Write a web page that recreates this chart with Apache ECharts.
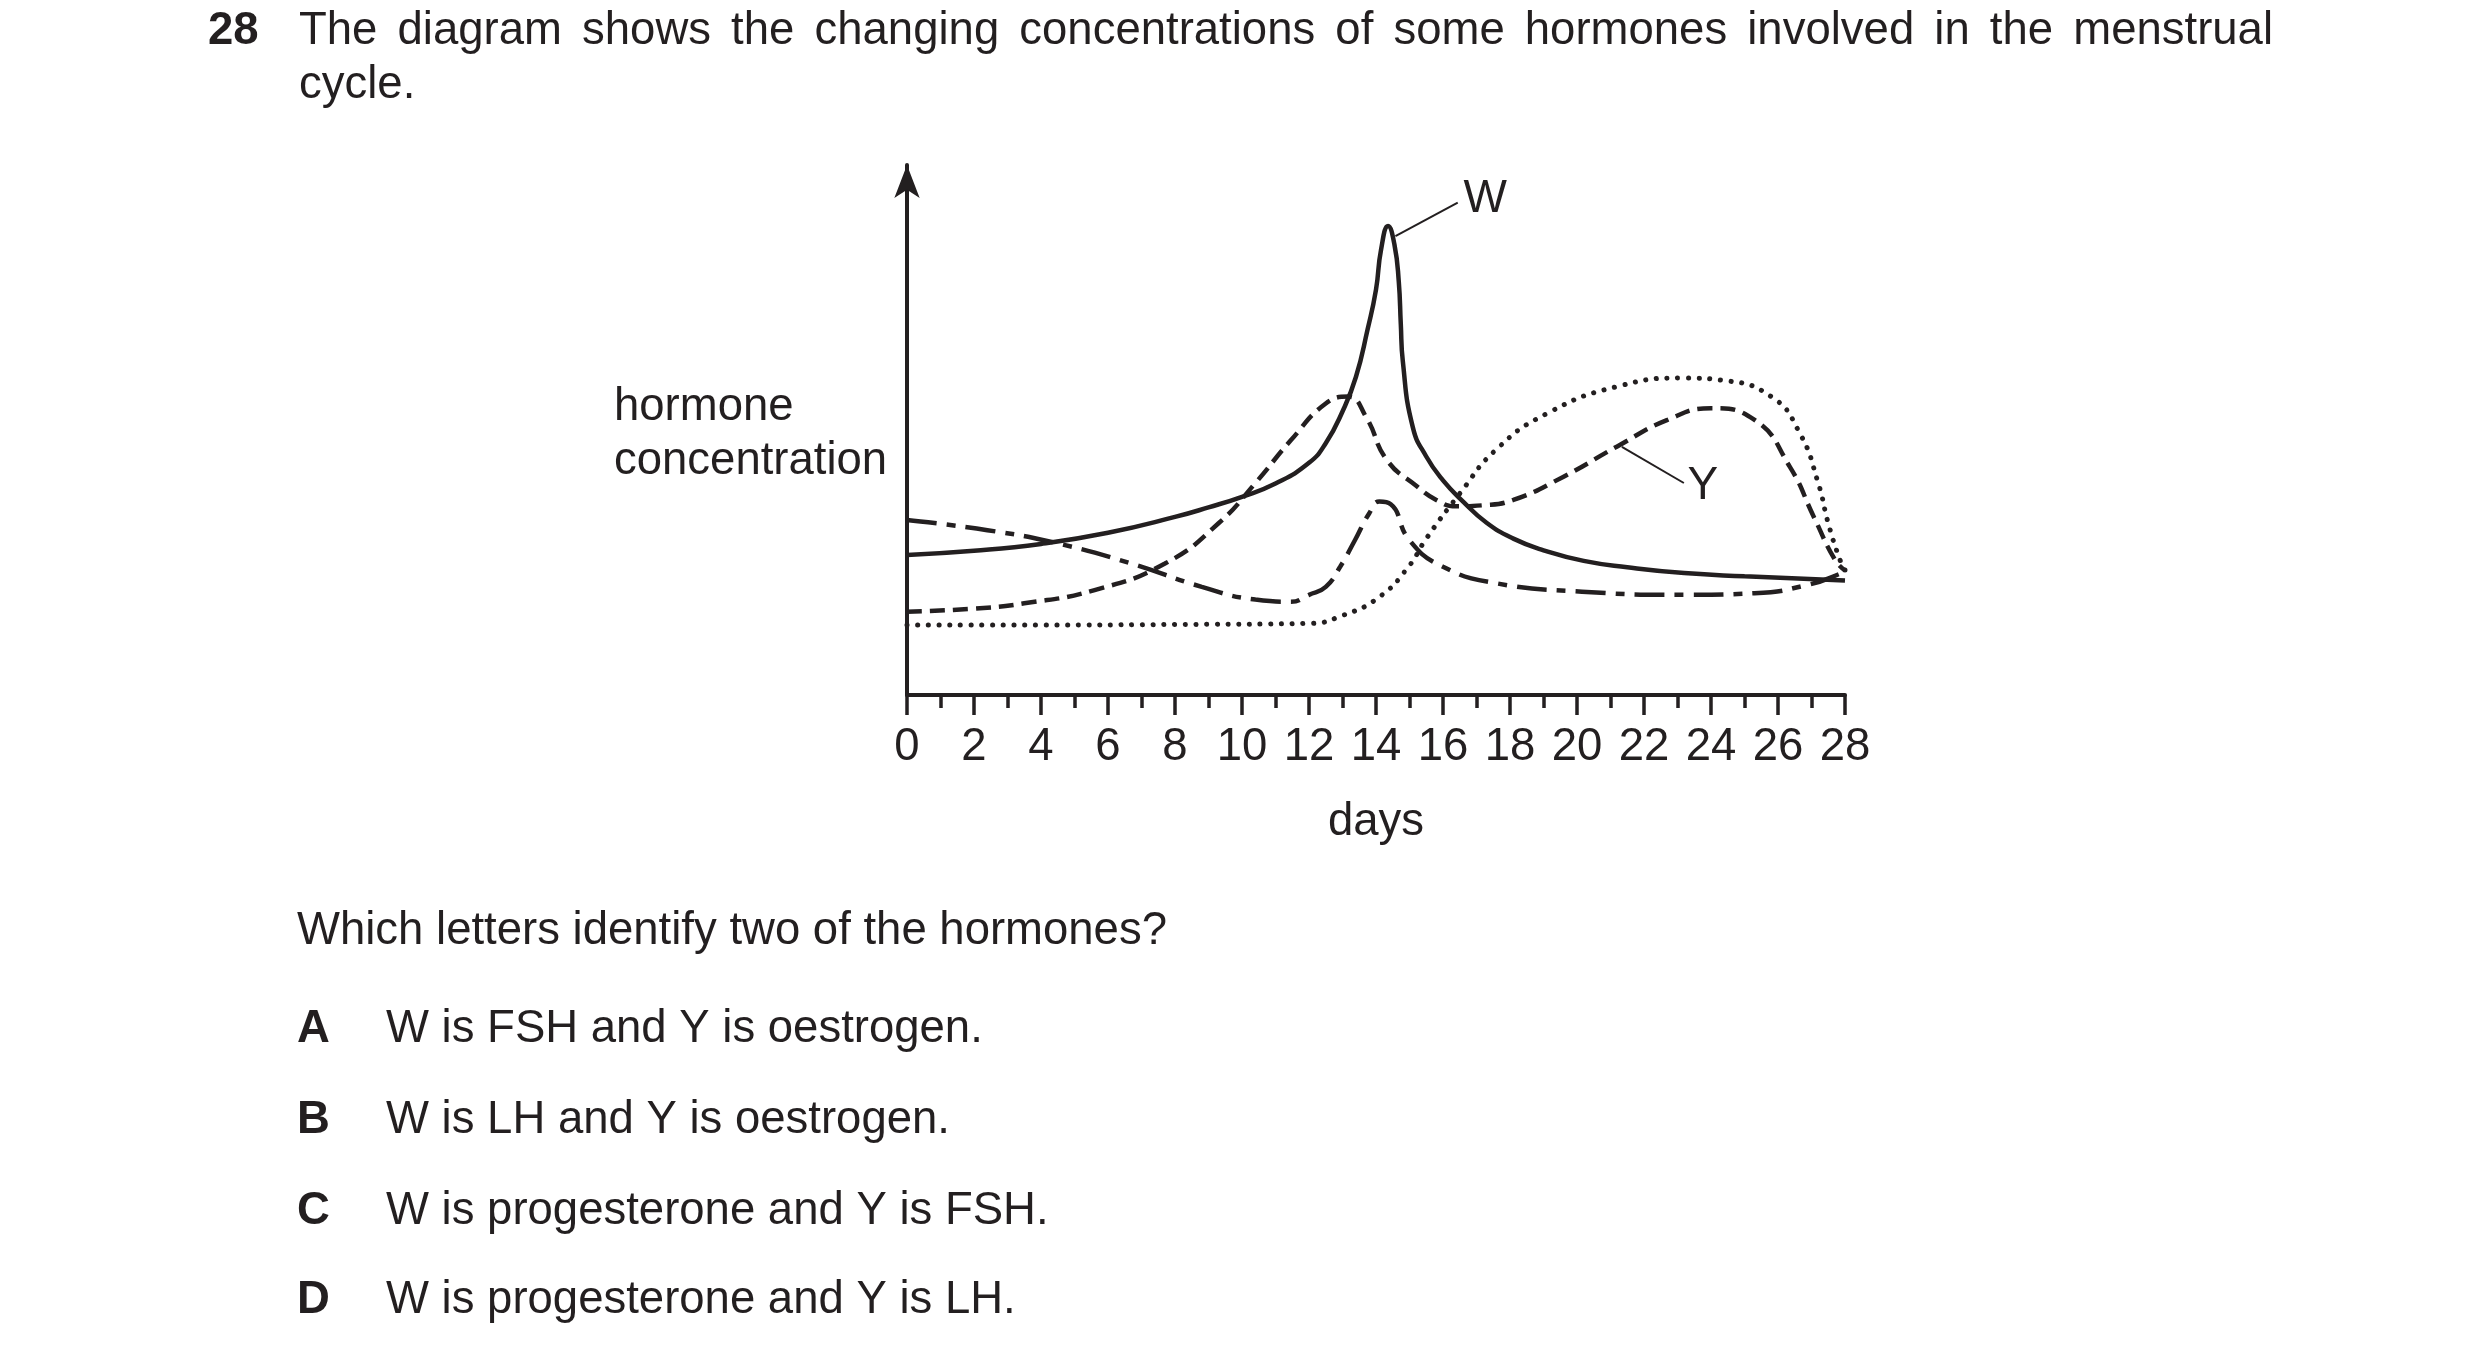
<!DOCTYPE html>
<html>
<head>
<meta charset="utf-8">
<title>hormones in the menstrual cycle</title>
<script src="https://cdn.jsdelivr.net/npm/echarts@6/dist/echarts.min.js"></script>
<style>
  html, body { margin: 0; padding: 0; background: #fff; }
  #main { width: 2480px; height: 1362px; }
</style>
</head>
<body>
<div id="main"></div>
<script>
// hormone concentration (arbitrary units), day by day
var wDays = [0, 2, 4, 6, 8, 9, 10, 11, 12, 12.5, 13, 13.4, 13.75, 14.0, 14.15, 14.36, 14.55, 14.68, 14.74, 14.8, 15.1, 15.5, 16, 16.6, 17.3, 18.1, 19, 20.2, 21.5, 23.2, 25, 28];
var wConc = [26.4, 27.2, 28.5, 30.6, 33.6, 35.4, 37.4, 39.9, 43.8, 47.5, 53.5, 60, 69, 76.5, 84, 88.5, 85, 78, 70, 63, 50.5, 45, 40.5, 36.5, 32.5, 29.5, 27.3, 25.3, 24.1, 23, 22.4, 21.6];

var yDays = [0, 2, 3.5, 5.6, 7.7, 9.3, 10.4, 11.45, 12.5, 13.17, 13.7, 14.33, 15.2, 15.8, 16.4, 17.2, 18.1, 19.6, 21.2, 22.7, 24, 25.3, 26.35, 27.07, 27.7, 28];
var yConc = [15.7, 16.3, 17.3, 19.8, 24.8, 32.4, 40, 48, 55, 56.3, 52.5, 44.3, 39.5, 36.8, 35.6, 35.8, 36.8, 41.2, 46.9, 51.9, 54.1, 51.9, 43.1, 33.6, 25.5, 23.5];

var dotDays = [0, 4, 8, 12, 13, 14.1, 14.97, 15.5, 16.5, 17.57, 19.1, 21.2, 23.25, 24.3, 25.8, 26.65, 27.2, 27.5, 27.85, 28];
var dotConc = [13.2, 13.2, 13.3, 13.5, 15, 18.5, 24.2, 29.5, 38, 46.2, 53.1, 58.2, 59.8, 59.4, 56.3, 49.4, 40, 32.4, 25.5, 23.6];

var ddDays = [0, 2.4, 4.5, 6.7, 8.8, 10.4, 11.45, 12.0, 12.5, 12.93, 13.37, 13.8, 14.1, 14.44, 15, 16, 17.57, 20.15, 23.25, 25.3, 26.9, 27.9, 28];
var ddConc = [33, 31.1, 28.6, 24.8, 20.4, 18, 17.6, 18.9, 20.4, 24.2, 29.2, 34.3, 36.5, 36, 29.2, 24.2, 21.1, 19.5, 18.9, 19.2, 20.8, 23, 23.5];

// leader lines for the two labelled curves: [start, end, label]
var wLeader = [[14.58, 86.6], [16.44, 92.9], [17.26, 93.6]];
var yLeader = [[21.34, 46.8], [23.19, 40.0], [23.76, 39.4]];

var ink = '#231f20';
var font = '"Liberation Sans", Arial, Helvetica, sans-serif';
var size = 45.5;

function pairs(xs, ys) {
    var out = [];
    for (var i = 0; i < xs.length; i++) {
        out.push([xs[i], ys[i]]);
    }
    return out;
}

function leader(l) {
    return {
        silent: true,
        symbol: ['none', 'none'],
        label: { show: false },
        lineStyle: { color: ink, width: 2, type: 'solid' },
        data: [[{ coord: l[0] }, { coord: l[1] }]]
    };
}

function tag(l, text) {
    return {
        silent: true,
        symbol: 'circle',
        symbolSize: 1,
        itemStyle: { color: 'rgba(0,0,0,0)' },
        label: {
            show: true, position: 'inside', formatter: text,
            color: ink, fontFamily: font, fontSize: 46
        },
        data: [{ coord: l[2] }]
    };
}

// first line of the question is justified between two edges, like the printed page
var measure = document.createElement('canvas').getContext('2d');
function justified(text, x0, x1, y) {
    measure.font = size + 'px ' + font;
    var words = text.split(' ');
    var total = 0;
    for (var i = 0; i < words.length; i++) total += measure.measureText(words[i]).width;
    var gap = (x1 - x0 - total) / (words.length - 1);
    var out = [];
    var x = x0;
    for (var j = 0; j < words.length; j++) {
        out.push(line(x, y, words[j]));
        x += measure.measureText(words[j]).width + gap;
    }
    return out;
}

function line(x, y, text, bold) {
    return { type: 'text', x: x, y: y, style: { text: text, fill: ink, font: (bold ? 'bold ' : '') + size + 'px ' + font, verticalAlign: 'middle' } };
}

var myChart = echarts.init(document.getElementById('main'));

var texts = justified('The diagram shows the changing concentrations of some hormones involved in the menstrual', 299, 2273, 31);
texts.push(line(208, 31, '28', true));
texts.push(line(299, 85, 'cycle.'));
// y axis title, two left-aligned lines
texts.push(line(614, 407, 'hormone'));
texts.push(line(614, 461, 'concentration'));
texts.push(line(297, 931, 'Which letters identify two of the hormones?'));
texts.push(line(297, 1029, 'A', true));
texts.push(line(386, 1029, 'W is FSH and Y is oestrogen.'));
texts.push(line(297, 1120, 'B', true));
texts.push(line(386, 1120, 'W is LH and Y is oestrogen.'));
texts.push(line(297, 1211, 'C', true));
texts.push(line(386, 1211, 'W is progesterone and Y is FSH.'));
texts.push(line(297, 1300, 'D', true));
texts.push(line(386, 1300, 'W is progesterone and Y is LH.'));

var option = {
    animation: false,
    backgroundColor: '#ffffff',
    grid: { left: 907, right: 635, top: 165, bottom: 667 },
    xAxis: {
        type: 'value', min: 0, max: 28, interval: 2,
        name: 'days', nameLocation: 'middle', nameGap: 127,
        nameTextStyle: { color: ink, fontFamily: font, fontSize: size, verticalAlign: 'middle' },
        axisLine: { show: true, onZero: false, lineStyle: { color: ink, width: 4 } },
        axisTick: { show: true, length: 20, lineStyle: { color: ink, width: 3.5 } },
        minorTick: { show: true, splitNumber: 2, length: 13, lineStyle: { color: ink, width: 3.5 } },
        axisLabel: { color: ink, fontFamily: font, fontSize: size, margin: 29 },
        splitLine: { show: false },
        minorSplitLine: { show: false }
    },
    yAxis: {
        type: 'value', min: 0, max: 100,
        axisLine: {
            show: true, onZero: false,
            symbol: ['none', 'arrow'], symbolSize: [19, 33],
            lineStyle: { color: ink, width: 4 }
        },
        axisTick: { show: false },
        axisLabel: { show: false },
        splitLine: { show: false }
    },
    series: [
        {
            name: 'W', type: 'line', data: pairs(wDays, wConc),
            smooth: 0.5, symbol: 'none',
            lineStyle: { color: ink, width: 4.5 }, z: 5,
            markLine: leader(wLeader), markPoint: tag(wLeader, 'W')
        },
        {
            name: 'Y', type: 'line', data: pairs(yDays, yConc),
            smooth: 0.5, symbol: 'none',
            lineStyle: { color: ink, width: 4.5, type: [15, 8] }, z: 4,
            markLine: leader(yLeader), markPoint: tag(yLeader, 'Y')
        },
        {
            name: 'dotted', type: 'line', data: pairs(dotDays, dotConc),
            smooth: 0.5, symbol: 'none',
            lineStyle: { color: ink, width: 5, type: [0.1, 10.6], cap: 'round' }, z: 3
        },
        {
            name: 'dashdot', type: 'line', data: pairs(ddDays, ddConc),
            smooth: 0.5, symbol: 'none',
            lineStyle: { color: ink, width: 4.5, type: [30, 10, 9, 10] }, z: 3
        }
    ],
    graphic: texts
};
myChart.setOption(option);
</script>
</body>
</html>
